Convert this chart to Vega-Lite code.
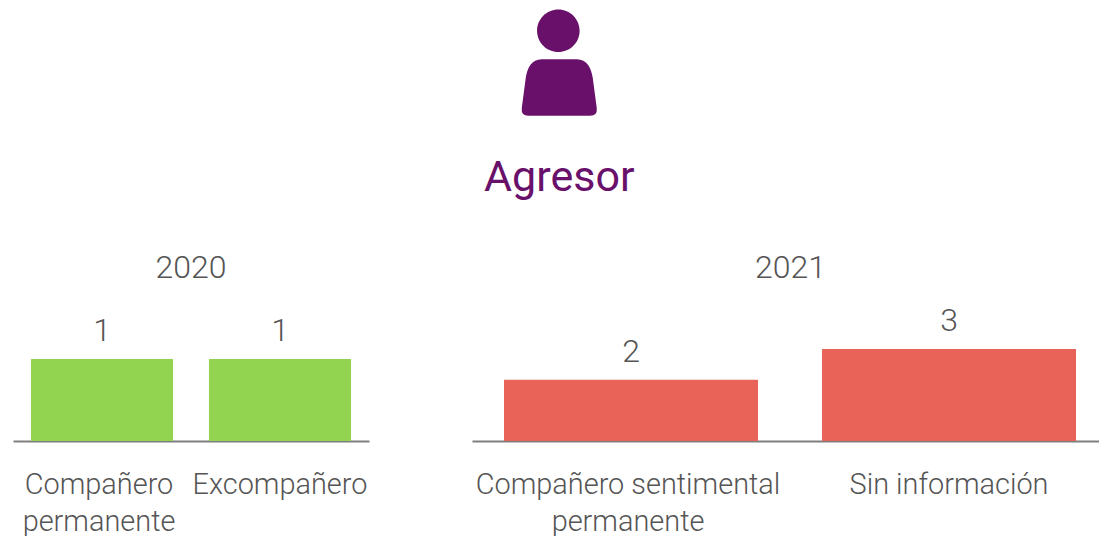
{"$schema":"https://vega.github.io/schema/vega-lite/v6.json","padding":{"left":13,"top":0,"right":0,"bottom":0},"background":"white","spacing":0,"config":{"view":{"stroke":null},"font":"Roboto","concat":{"spacing":0}},"vconcat":[{"width":1086,"height":252,"data":{"values":[{"kind":"icon","px":0.503,"py":0.752,"label":""},{"kind":"title","px":0.503,"py":0.242,"label":"Agresor"}]},"layer":[{"transform":[{"filter":"datum.kind=='icon'"}],"mark":{"type":"point","filled":true,"opacity":1,"color":"#69106b","strokeWidth":0,"size":11321,"shape":"M-0.417,-0.598 a0.4,0.4 0 1,1 0.8,0 a0.4,0.4 0 1,1 -0.8,0 Z M-0.329,-0.06 L0.329,-0.06 C0.52,-0.06 0.6,0.1 0.63,0.29 L0.705,0.86 Q0.72,1 0.58,1 L-0.58,1 Q-0.72,1 -0.705,0.86 L-0.63,0.29 C-0.6,0.1 -0.52,-0.06 -0.329,-0.06 Z"},"encoding":{"x":{"field":"px","type":"quantitative","scale":{"domain":[0,1]},"axis":null},"y":{"field":"py","type":"quantitative","scale":{"domain":[0,1]},"axis":null}}},{"transform":[{"filter":"datum.kind=='title'"}],"mark":{"type":"text","font":"Roboto","fontSize":43,"color":"#69106b","baseline":"alphabetic","align":"center"},"encoding":{"x":{"field":"px","type":"quantitative","scale":{"domain":[0,1]},"axis":null},"y":{"field":"py","type":"quantitative","scale":{"domain":[0,1]},"axis":null},"text":{"field":"label"}}}]},{"hconcat":[{"width":356,"height":146,"title":{"text":"2020","font":"Roboto","fontWeight":300,"fontSize":32,"color":"#555555","anchor":"middle","offset":10},"data":{"values":[{"agresor":"Compañero\npermanente","casos":1},{"agresor":"Excompañero","casos":1}]},"encoding":{"x":{"field":"agresor","type":"nominal","sort":null,"title":null,"scale":{"paddingInner":0.2022,"paddingOuter":0.1011},"axis":{"labelAngle":0,"ticks":false,"grid":false,"domainColor":"#7f7f7f","domainWidth":2,"labelFont":"Roboto","labelFontWeight":300,"labelFontSize":28.9,"labelColor":"#555555","labelPadding":29,"labelLimit":0,"labelLineHeight":37,"labelOverlap":false,"labelExpr":"split(datum.label,'\\n')","labelOffset":{"condition":{"test":"test(/permanente/,datum.value)","value":-3},"value":0}}},"y":{"field":"casos","type":"quantitative","scale":{"domain":[0,1.78]},"axis":null}},"layer":[{"mark":{"type":"bar","color":"#92d44f"}},{"mark":{"type":"text","font":"Roboto","fontWeight":300,"fontSize":32,"color":"#555555","baseline":"alphabetic","dy":-18},"encoding":{"text":{"field":"casos","type":"quantitative"}}}]},{"width":627,"height":146,"title":{"text":"2021","font":"Roboto","fontWeight":300,"fontSize":32,"color":"#555555","anchor":"start","dx":283,"offset":10},"data":{"values":[{"agresor":"Compañero sentimental\npermanente","casos":2},{"agresor":"Sin información","casos":3}]},"encoding":{"x":{"field":"agresor","type":"nominal","sort":null,"title":null,"scale":{"paddingInner":0.2013,"paddingOuter":0.0865,"align":0.582},"axis":{"labelAngle":0,"ticks":false,"grid":false,"domainColor":"#7f7f7f","domainWidth":2,"labelFont":"Roboto","labelFontWeight":300,"labelFontSize":28.9,"labelColor":"#555555","labelPadding":29,"labelLimit":0,"labelLineHeight":37,"labelOverlap":false,"labelExpr":"split(datum.label,'\\n')","labelOffset":{"condition":{"test":"test(/permanente/,datum.value)","value":-3},"value":0}}},"y":{"field":"casos","type":"quantitative","scale":{"domain":[0,4.76]},"axis":null}},"layer":[{"mark":{"type":"bar","color":"#e96358"}},{"mark":{"type":"text","font":"Roboto","fontWeight":300,"fontSize":32,"color":"#555555","baseline":"alphabetic","dy":-18},"encoding":{"text":{"field":"casos","type":"quantitative"}}}]}],"spacing":103}]}
